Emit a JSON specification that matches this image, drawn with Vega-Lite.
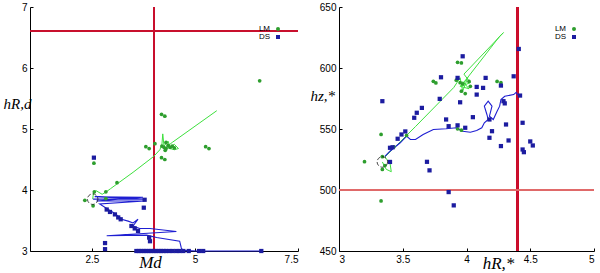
{
  "$schema": "https://vega.github.io/schema/vega-lite/v6.json",
  "padding": {"left": 3, "top": 2, "right": 0, "bottom": 0},
  "background": "white",
  "spacing": 41,
  "bounds": "flush",
  "resolve": {"scale": {"color": "independent", "shape": "independent"}, "legend": {"color": "independent", "shape": "independent"}},
  "config": {
    "view": {"stroke": null},
    "font": "Liberation Sans",
    "axis": {
      "grid": false, "domainColor": "#000", "domainWidth": 1, "tickColor": "#000", "tickSize": -3,
      "labelFont": "Liberation Sans", "labelFontSize": 10, "labelColor": "#000", "labelPadding": 6,
      "titleFont": "Liberation Serif", "titleFontStyle": "italic", "titleFontWeight": "normal", "titleFontSize": 17, "titleColor": "#000"
    },
    "legend": {"labelFontSize": 8, "labelFont": "Liberation Sans", "title": null, "orient": "top-right", "rowPadding": 0, "padding": 2, "offset": 16, "labelAlign": "right", "labelOffset": -12, "symbolSize": 16}
  },
  "datasets": {
    "left": [
      {"series": "LM", "kind": "track", "step": 0, "x": 2.52, "y": 3.85},
      {"series": "LM", "kind": "track", "step": 1, "x": 2.54, "y": 3.95},
      {"series": "LM", "kind": "track", "step": 2, "x": 2.60, "y": 3.99},
      {"series": "LM", "kind": "track", "step": 3, "x": 2.75, "y": 3.93},
      {"series": "LM", "kind": "track", "step": 4, "x": 2.85, "y": 3.97},
      {"series": "LM", "kind": "track", "step": 5, "x": 2.95, "y": 4.02},
      {"series": "LM", "kind": "track", "step": 6, "x": 3.50, "y": 4.29},
      {"series": "LM", "kind": "track", "step": 7, "x": 4.00, "y": 4.55},
      {"series": "LM", "kind": "track", "step": 8, "x": 4.15, "y": 4.66},
      {"series": "LM", "kind": "track", "step": 9, "x": 4.20, "y": 4.75},
      {"series": "LM", "kind": "track", "step": 10, "x": 4.22, "y": 4.92},
      {"series": "LM", "kind": "track", "step": 11, "x": 4.25, "y": 4.72},
      {"series": "LM", "kind": "track", "step": 12, "x": 4.35, "y": 4.80},
      {"series": "LM", "kind": "track", "step": 13, "x": 4.40, "y": 4.70},
      {"series": "LM", "kind": "track", "step": 14, "x": 4.50, "y": 4.75},
      {"series": "LM", "kind": "track", "step": 15, "x": 4.60, "y": 4.68},
      {"series": "LM", "kind": "track", "step": 16, "x": 4.50, "y": 4.66},
      {"series": "LM", "kind": "track", "step": 17, "x": 4.30, "y": 4.70},
      {"series": "LM", "kind": "track", "step": 18, "x": 4.45, "y": 4.78},
      {"series": "LM", "kind": "track", "step": 19, "x": 5.53, "y": 5.30},
      {"series": "DS", "kind": "track", "step": 0, "x": 2.53, "y": 3.85},
      {"series": "DS", "kind": "track", "step": 1, "x": 3.78, "y": 3.85},
      {"series": "DS", "kind": "track", "step": 2, "x": 2.57, "y": 3.89},
      {"series": "DS", "kind": "track", "step": 3, "x": 3.74, "y": 3.88},
      {"series": "DS", "kind": "track", "step": 4, "x": 2.61, "y": 3.82},
      {"series": "DS", "kind": "track", "step": 5, "x": 3.78, "y": 3.82},
      {"series": "DS", "kind": "track", "step": 6, "x": 2.69, "y": 3.77},
      {"series": "DS", "kind": "track", "step": 7, "x": 2.90, "y": 3.68},
      {"series": "DS", "kind": "track", "step": 8, "x": 3.02, "y": 3.63},
      {"series": "DS", "kind": "track", "step": 9, "x": 3.14, "y": 3.57},
      {"series": "DS", "kind": "track", "step": 10, "x": 3.22, "y": 3.52},
      {"series": "DS", "kind": "track", "step": 11, "x": 3.38, "y": 3.49},
      {"series": "DS", "kind": "track", "step": 12, "x": 3.50, "y": 3.46},
      {"series": "DS", "kind": "track", "step": 13, "x": 3.62, "y": 3.52},
      {"series": "DS", "kind": "track", "step": 14, "x": 3.50, "y": 3.41},
      {"series": "DS", "kind": "track", "step": 15, "x": 3.66, "y": 3.37},
      {"series": "DS", "kind": "track", "step": 16, "x": 3.91, "y": 3.37},
      {"series": "DS", "kind": "track", "step": 17, "x": 4.55, "y": 3.32},
      {"series": "DS", "kind": "track", "step": 18, "x": 2.86, "y": 3.25},
      {"series": "DS", "kind": "track", "step": 19, "x": 3.83, "y": 3.26},
      {"series": "DS", "kind": "track", "step": 20, "x": 4.07, "y": 3.22},
      {"series": "DS", "kind": "track", "step": 21, "x": 4.63, "y": 3.16},
      {"series": "DS", "kind": "track", "step": 22, "x": 4.67, "y": 3.05},
      {"series": "DS", "kind": "track", "step": 23, "x": 4.71, "y": 3.01},
      {"series": "DS", "kind": "track", "step": 24, "x": 5.03, "y": 3.00},
      {"series": "DS", "kind": "track", "step": 25, "x": 6.61, "y": 3.00},
      {"series": "LM", "kind": "snap", "x": 6.57, "y": 5.79},
      {"series": "LM", "kind": "snap", "x": 4.19, "y": 5.24},
      {"series": "LM", "kind": "snap", "x": 4.27, "y": 5.21},
      {"series": "LM", "kind": "snap", "x": 3.81, "y": 4.71},
      {"series": "LM", "kind": "snap", "x": 3.89, "y": 4.68},
      {"series": "LM", "kind": "snap", "x": 4.03, "y": 4.76},
      {"series": "LM", "kind": "snap", "x": 4.19, "y": 4.53},
      {"series": "LM", "kind": "snap", "x": 4.27, "y": 4.50},
      {"series": "LM", "kind": "snap", "x": 5.26, "y": 4.71},
      {"series": "LM", "kind": "snap", "x": 5.34, "y": 4.68},
      {"series": "LM", "kind": "snap", "x": 3.11, "y": 4.12},
      {"series": "LM", "kind": "snap", "x": 2.84, "y": 3.97},
      {"series": "LM", "kind": "snap", "x": 2.56, "y": 3.97},
      {"series": "LM", "kind": "snap", "x": 2.84, "y": 3.86},
      {"series": "LM", "kind": "snap", "x": 2.33, "y": 3.83},
      {"series": "LM", "kind": "snap", "x": 2.53, "y": 3.74},
      {"series": "LM", "kind": "snap", "x": 2.55, "y": 4.44},
      {"series": "LM", "kind": "snap", "x": 4.20, "y": 4.72},
      {"series": "LM", "kind": "snap", "x": 4.25, "y": 4.70},
      {"series": "LM", "kind": "snap", "x": 4.30, "y": 4.68},
      {"series": "LM", "kind": "snap", "x": 4.35, "y": 4.73},
      {"series": "LM", "kind": "snap", "x": 4.40, "y": 4.70},
      {"series": "LM", "kind": "snap", "x": 4.45, "y": 4.72},
      {"series": "LM", "kind": "snap", "x": 4.50, "y": 4.69},
      {"series": "LM", "kind": "snap", "x": 4.30, "y": 4.78},
      {"series": "LM", "kind": "snap", "x": 4.28, "y": 4.65},
      {"series": "DS", "kind": "snap", "x": 2.55, "y": 4.53},
      {"series": "DS", "kind": "snap", "x": 3.78, "y": 3.84},
      {"series": "DS", "kind": "snap", "x": 3.76, "y": 3.71},
      {"series": "DS", "kind": "snap", "x": 2.86, "y": 3.68},
      {"series": "DS", "kind": "snap", "x": 2.94, "y": 3.64},
      {"series": "DS", "kind": "snap", "x": 3.06, "y": 3.60},
      {"series": "DS", "kind": "snap", "x": 3.14, "y": 3.55},
      {"series": "DS", "kind": "snap", "x": 3.20, "y": 3.52},
      {"series": "DS", "kind": "snap", "x": 3.46, "y": 3.41},
      {"series": "DS", "kind": "snap", "x": 3.54, "y": 3.37},
      {"series": "DS", "kind": "snap", "x": 3.62, "y": 3.33},
      {"series": "DS", "kind": "snap", "x": 3.89, "y": 3.22},
      {"series": "DS", "kind": "snap", "x": 3.91, "y": 3.16},
      {"series": "DS", "kind": "snap", "x": 2.82, "y": 3.13},
      {"series": "DS", "kind": "snap", "x": 2.82, "y": 3.03},
      {"series": "DS", "kind": "snap", "x": 3.58, "y": 3.0},
      {"series": "DS", "kind": "snap", "x": 3.64, "y": 3.0},
      {"series": "DS", "kind": "snap", "x": 3.70, "y": 3.0},
      {"series": "DS", "kind": "snap", "x": 3.76, "y": 3.0},
      {"series": "DS", "kind": "snap", "x": 3.82, "y": 3.0},
      {"series": "DS", "kind": "snap", "x": 3.88, "y": 3.0},
      {"series": "DS", "kind": "snap", "x": 3.94, "y": 3.0},
      {"series": "DS", "kind": "snap", "x": 4.00, "y": 3.0},
      {"series": "DS", "kind": "snap", "x": 4.06, "y": 3.0},
      {"series": "DS", "kind": "snap", "x": 4.12, "y": 3.0},
      {"series": "DS", "kind": "snap", "x": 4.18, "y": 3.0},
      {"series": "DS", "kind": "snap", "x": 4.24, "y": 3.0},
      {"series": "DS", "kind": "snap", "x": 4.30, "y": 3.0},
      {"series": "DS", "kind": "snap", "x": 4.38, "y": 3.0},
      {"series": "DS", "kind": "snap", "x": 4.46, "y": 3.0},
      {"series": "DS", "kind": "snap", "x": 4.55, "y": 3.0},
      {"series": "DS", "kind": "snap", "x": 4.63, "y": 3.0},
      {"series": "DS", "kind": "snap", "x": 4.72, "y": 3.0},
      {"series": "DS", "kind": "snap", "x": 4.85, "y": 3.0},
      {"series": "DS", "kind": "snap", "x": 5.10, "y": 3.0},
      {"series": "DS", "kind": "snap", "x": 5.20, "y": 3.0},
      {"series": "DS", "kind": "snap", "x": 6.61, "y": 3.0},
      {"series": "start", "kind": "start", "x": 2.52, "y": 3.85}
    ],
    "right": [
      {"series": "LM", "kind": "track", "step": 0, "x": 3.34, "y": 523},
      {"series": "LM", "kind": "track", "step": 1, "x": 3.37, "y": 517},
      {"series": "LM", "kind": "track", "step": 2, "x": 3.41, "y": 515},
      {"series": "LM", "kind": "track", "step": 3, "x": 3.40, "y": 522},
      {"series": "LM", "kind": "track", "step": 4, "x": 3.36, "y": 527},
      {"series": "LM", "kind": "track", "step": 5, "x": 3.60, "y": 552},
      {"series": "LM", "kind": "track", "step": 6, "x": 3.90, "y": 584},
      {"series": "LM", "kind": "track", "step": 7, "x": 3.95, "y": 592},
      {"series": "LM", "kind": "track", "step": 8, "x": 3.97, "y": 581},
      {"series": "LM", "kind": "track", "step": 9, "x": 4.01, "y": 592},
      {"series": "LM", "kind": "track", "step": 10, "x": 3.96, "y": 585},
      {"series": "LM", "kind": "track", "step": 11, "x": 4.03, "y": 588},
      {"series": "LM", "kind": "track", "step": 12, "x": 3.98, "y": 595},
      {"series": "LM", "kind": "track", "step": 13, "x": 4.29, "y": 629},
      {"series": "LM", "kind": "track", "step": 14, "x": 4.26, "y": 626},
      {"series": "LM", "kind": "track", "step": 15, "x": 4.00, "y": 591},
      {"series": "LM", "kind": "track", "step": 16, "x": 3.95, "y": 585},
      {"series": "LM", "kind": "track", "step": 17, "x": 4.02, "y": 583},
      {"series": "LM", "kind": "track", "step": 18, "x": 3.97, "y": 589},
      {"series": "DS", "kind": "track", "step": 0, "x": 3.36, "y": 527.5},
      {"series": "DS", "kind": "track", "step": 1, "x": 3.40, "y": 531.8},
      {"series": "DS", "kind": "track", "step": 2, "x": 3.48, "y": 538.7},
      {"series": "DS", "kind": "track", "step": 3, "x": 3.53, "y": 544.1},
      {"series": "DS", "kind": "track", "step": 4, "x": 3.56, "y": 541.4},
      {"series": "DS", "kind": "track", "step": 5, "x": 3.60, "y": 541.4},
      {"series": "DS", "kind": "track", "step": 6, "x": 3.66, "y": 545.5},
      {"series": "DS", "kind": "track", "step": 7, "x": 3.74, "y": 549.6},
      {"series": "DS", "kind": "track", "step": 8, "x": 3.84, "y": 550.2},
      {"series": "DS", "kind": "track", "step": 9, "x": 3.92, "y": 551.0},
      {"series": "DS", "kind": "track", "step": 10, "x": 3.97, "y": 548.2},
      {"series": "DS", "kind": "track", "step": 11, "x": 4.03, "y": 547.4},
      {"series": "DS", "kind": "track", "step": 12, "x": 4.08, "y": 548.8},
      {"series": "DS", "kind": "track", "step": 13, "x": 4.12, "y": 551.0},
      {"series": "DS", "kind": "track", "step": 14, "x": 4.14, "y": 555.1},
      {"series": "DS", "kind": "track", "step": 15, "x": 4.17, "y": 557.8},
      {"series": "DS", "kind": "track", "step": 16, "x": 4.16, "y": 561.9},
      {"series": "DS", "kind": "track", "step": 17, "x": 4.14, "y": 568.7},
      {"series": "DS", "kind": "track", "step": 18, "x": 4.17, "y": 572.8},
      {"series": "DS", "kind": "track", "step": 19, "x": 4.20, "y": 568.7},
      {"series": "DS", "kind": "track", "step": 20, "x": 4.18, "y": 560.5},
      {"series": "DS", "kind": "track", "step": 21, "x": 4.21, "y": 557.8},
      {"series": "DS", "kind": "track", "step": 22, "x": 4.24, "y": 564.6},
      {"series": "DS", "kind": "track", "step": 23, "x": 4.26, "y": 568.7},
      {"series": "DS", "kind": "track", "step": 24, "x": 4.27, "y": 574.1},
      {"series": "DS", "kind": "track", "step": 25, "x": 4.30, "y": 576.8},
      {"series": "DS", "kind": "track", "step": 26, "x": 4.37, "y": 578.2},
      {"series": "DS", "kind": "track", "step": 27, "x": 4.39, "y": 580.1},
      {"series": "DS", "kind": "track", "step": 28, "x": 4.40, "y": 578.2},
      {"series": "DS", "kind": "track", "step": 29, "x": 4.42, "y": 576.8},
      {"series": "LM", "kind": "snap", "x": 3.93, "y": 604.7},
      {"series": "LM", "kind": "snap", "x": 3.96, "y": 604.2},
      {"series": "LM", "kind": "snap", "x": 3.74, "y": 589.1},
      {"series": "LM", "kind": "snap", "x": 3.76, "y": 587.8},
      {"series": "LM", "kind": "snap", "x": 3.92, "y": 590},
      {"series": "LM", "kind": "snap", "x": 3.95, "y": 588},
      {"series": "LM", "kind": "snap", "x": 4.02, "y": 589},
      {"series": "LM", "kind": "snap", "x": 4.03, "y": 585},
      {"series": "LM", "kind": "snap", "x": 3.96, "y": 581},
      {"series": "LM", "kind": "snap", "x": 3.99, "y": 579},
      {"series": "LM", "kind": "snap", "x": 3.97, "y": 587},
      {"series": "LM", "kind": "snap", "x": 4.24, "y": 589},
      {"series": "LM", "kind": "snap", "x": 4.27, "y": 588},
      {"series": "LM", "kind": "snap", "x": 3.93, "y": 550.2},
      {"series": "LM", "kind": "snap", "x": 3.96, "y": 549},
      {"series": "LM", "kind": "snap", "x": 3.53, "y": 544.7},
      {"series": "LM", "kind": "snap", "x": 3.43, "y": 535.4},
      {"series": "LM", "kind": "snap", "x": 3.34, "y": 527.3},
      {"series": "LM", "kind": "snap", "x": 3.34, "y": 516.9},
      {"series": "LM", "kind": "snap", "x": 3.33, "y": 545.5},
      {"series": "LM", "kind": "snap", "x": 3.20, "y": 523.2},
      {"series": "LM", "kind": "snap", "x": 3.33, "y": 491},
      {"series": "LM", "kind": "snap", "x": 3.36, "y": 520},
      {"series": "DS", "kind": "snap", "x": 3.97, "y": 609.6},
      {"series": "DS", "kind": "snap", "x": 3.80, "y": 592.4},
      {"series": "DS", "kind": "snap", "x": 3.93, "y": 591.9},
      {"series": "DS", "kind": "snap", "x": 4.15, "y": 591.9},
      {"series": "DS", "kind": "snap", "x": 4.37, "y": 593.2},
      {"series": "DS", "kind": "snap", "x": 4.08, "y": 584.5},
      {"series": "DS", "kind": "snap", "x": 4.13, "y": 583.7},
      {"series": "DS", "kind": "snap", "x": 4.27, "y": 585.6},
      {"series": "DS", "kind": "snap", "x": 4.08, "y": 578.2},
      {"series": "DS", "kind": "snap", "x": 3.79, "y": 574.7},
      {"series": "DS", "kind": "snap", "x": 3.95, "y": 571.9},
      {"series": "DS", "kind": "snap", "x": 4.29, "y": 572.8},
      {"series": "DS", "kind": "snap", "x": 4.30, "y": 571.0},
      {"series": "DS", "kind": "snap", "x": 4.42, "y": 577.4},
      {"series": "DS", "kind": "snap", "x": 3.34, "y": 572.8},
      {"series": "DS", "kind": "snap", "x": 3.65, "y": 567.3},
      {"series": "DS", "kind": "snap", "x": 3.61, "y": 563.3},
      {"series": "DS", "kind": "snap", "x": 3.59, "y": 559.2},
      {"series": "DS", "kind": "snap", "x": 3.84, "y": 557.8},
      {"series": "DS", "kind": "snap", "x": 4.05, "y": 559.7},
      {"series": "DS", "kind": "snap", "x": 4.18, "y": 557.8},
      {"series": "DS", "kind": "snap", "x": 4.31, "y": 553.7},
      {"series": "DS", "kind": "snap", "x": 3.86, "y": 552.3},
      {"series": "DS", "kind": "snap", "x": 3.93, "y": 553.0},
      {"series": "DS", "kind": "snap", "x": 3.99, "y": 551.0},
      {"series": "DS", "kind": "snap", "x": 4.20, "y": 548.2},
      {"series": "DS", "kind": "snap", "x": 4.18, "y": 542.8},
      {"series": "DS", "kind": "snap", "x": 4.33, "y": 540.6},
      {"series": "DS", "kind": "snap", "x": 4.27, "y": 536.0},
      {"series": "DS", "kind": "snap", "x": 4.44, "y": 555.1},
      {"series": "DS", "kind": "snap", "x": 4.50, "y": 539.8},
      {"series": "DS", "kind": "snap", "x": 4.52, "y": 536.5},
      {"series": "DS", "kind": "snap", "x": 4.44, "y": 533.2},
      {"series": "DS", "kind": "snap", "x": 4.45, "y": 531.0},
      {"series": "DS", "kind": "snap", "x": 4.41, "y": 615.6},
      {"series": "DS", "kind": "snap", "x": 3.49, "y": 545.5},
      {"series": "DS", "kind": "snap", "x": 3.52, "y": 548.0},
      {"series": "DS", "kind": "snap", "x": 3.46, "y": 542.0},
      {"series": "DS", "kind": "snap", "x": 3.42, "y": 535.0},
      {"series": "DS", "kind": "snap", "x": 3.40, "y": 534.6},
      {"series": "DS", "kind": "snap", "x": 3.40, "y": 523.0},
      {"series": "DS", "kind": "snap", "x": 3.69, "y": 523.1},
      {"series": "DS", "kind": "snap", "x": 3.71, "y": 516.1},
      {"series": "DS", "kind": "snap", "x": 3.86, "y": 498.3},
      {"series": "DS", "kind": "snap", "x": 3.90, "y": 487.4},
      {"series": "start", "kind": "start", "x": 3.34, "y": 523}
    ]
  },
  "hconcat": [
    {
      "width": 268,
      "height": 244,
      "data": {"name": "left"},
      "layer": [
        {"mark": {"type": "rule", "color": "#c8102e", "strokeWidth": 1.2}, "encoding": {"x": {"datum": 4, "type": "quantitative", "scale": {"domain": [1, 7.5], "nice": false, "zero": false}, "axis": {"values": [2.5, 5, 7.5], "format": ".1~f", "title": "Md", "titleX": 120, "titleY": 16, "titleBaseline": "alphabetic", "titleAlign": "center"}}}},
        {"mark": {"type": "rule", "color": "#c8102e", "strokeWidth": 1.2}, "encoding": {"y": {"datum": 6.6, "type": "quantitative", "scale": {"domain": [3, 7], "nice": false, "zero": false}, "axis": {"values": [3, 4, 5, 6, 7], "format": "d", "title": "hR,d", "titleAngle": 0, "titleAlign": "left", "titleBaseline": "alphabetic", "titleX": -27, "titleY": 101, "titleFontSize": 15}}}},
        {
          "transform": [{"filter": "datum.kind == 'track' && datum.series == 'LM'"}],
          "mark": {"type": "line", "color": "#3ee03e", "strokeWidth": 1},
          "encoding": {"x": {"field": "x", "type": "quantitative"}, "y": {"field": "y", "type": "quantitative"}, "order": {"field": "step"}}
        },
        {
          "transform": [{"filter": "datum.kind == 'track' && datum.series == 'DS'"}],
          "mark": {"type": "line", "color": "#1e1ed2", "strokeWidth": 1.1},
          "encoding": {"x": {"field": "x", "type": "quantitative"}, "y": {"field": "y", "type": "quantitative"}, "order": {"field": "step"}}
        },
        {
          "transform": [{"filter": "datum.kind == 'snap'"}],
          "mark": {"type": "point", "filled": true, "opacity": 1},
          "encoding": {
            "x": {"field": "x", "type": "quantitative"},
            "y": {"field": "y", "type": "quantitative"},
            "color": {"field": "series", "type": "nominal", "scale": {"domain": ["LM", "DS"], "range": ["#2e9e2e", "#1c1ca0"]}},
            "shape": {"field": "series", "type": "nominal", "scale": {"domain": ["LM", "DS"], "range": ["circle", "square"]}},
            "size": {"field": "series", "type": "nominal", "scale": {"domain": ["LM", "DS"], "range": [14, 18]}, "legend": null}
          }
        },
        {
          "transform": [{"filter": "datum.kind == 'start'"}],
          "mark": {"type": "point", "filled": false, "color": "#000", "size": 110, "strokeWidth": 1, "strokeDash": [4, 2]},
          "encoding": {"x": {"field": "x", "type": "quantitative"}, "y": {"field": "y", "type": "quantitative"}}
        }
      ]
    },
    {
      "width": 255,
      "height": 244,
      "data": {"name": "right"},
      "layer": [
        {"mark": {"type": "rule", "color": "#c8102e", "strokeWidth": 1.2}, "encoding": {"x": {"datum": 4.4, "type": "quantitative", "scale": {"domain": [3, 5], "nice": false, "zero": false}, "axis": {"values": [3, 3.5, 4, 4.5, 5], "format": ".1~f", "title": "hR,*", "titleX": 159, "titleY": 17, "titleBaseline": "alphabetic", "titleAlign": "center"}}}},
        {"mark": {"type": "rule", "color": "#e06a6a", "strokeWidth": 0.8}, "encoding": {"y": {"datum": 500, "type": "quantitative", "scale": {"domain": [450, 650], "nice": false, "zero": false}, "axis": {"values": [450, 500, 550, 600, 650], "format": "d", "title": "hz,*", "titleAngle": 0, "titleAlign": "left", "titleBaseline": "alphabetic", "titleX": -29, "titleY": 93, "titleFontSize": 15}}}},
        {
          "transform": [{"filter": "datum.kind == 'track' && datum.series == 'LM'"}],
          "mark": {"type": "line", "color": "#3ee03e", "strokeWidth": 1},
          "encoding": {"x": {"field": "x", "type": "quantitative"}, "y": {"field": "y", "type": "quantitative"}, "order": {"field": "step"}}
        },
        {
          "transform": [{"filter": "datum.kind == 'track' && datum.series == 'DS'"}],
          "mark": {"type": "line", "color": "#1e1ed2", "strokeWidth": 1.1},
          "encoding": {"x": {"field": "x", "type": "quantitative"}, "y": {"field": "y", "type": "quantitative"}, "order": {"field": "step"}}
        },
        {
          "transform": [{"filter": "datum.kind == 'snap'"}],
          "mark": {"type": "point", "filled": true, "opacity": 1},
          "encoding": {
            "x": {"field": "x", "type": "quantitative"},
            "y": {"field": "y", "type": "quantitative"},
            "color": {"field": "series", "type": "nominal", "scale": {"domain": ["LM", "DS"], "range": ["#2e9e2e", "#1c1ca0"]}},
            "shape": {"field": "series", "type": "nominal", "scale": {"domain": ["LM", "DS"], "range": ["circle", "square"]}},
            "size": {"field": "series", "type": "nominal", "scale": {"domain": ["LM", "DS"], "range": [14, 18]}, "legend": null}
          }
        },
        {
          "transform": [{"filter": "datum.kind == 'start'"}],
          "mark": {"type": "point", "filled": false, "color": "#000", "size": 110, "strokeWidth": 1, "strokeDash": [4, 2]},
          "encoding": {"x": {"field": "x", "type": "quantitative"}, "y": {"field": "y", "type": "quantitative"}}
        }
      ]
    }
  ]
}
